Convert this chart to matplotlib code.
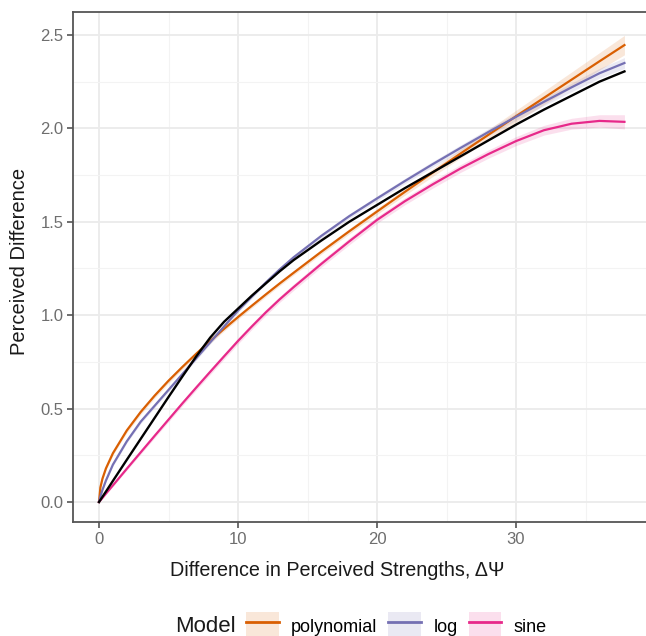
import matplotlib.pyplot as plt
from matplotlib.lines import Line2D
from matplotlib.patches import Patch
from matplotlib.ticker import MultipleLocator

plt.rcParams['font.family'] = ['Liberation Sans', 'DejaVu Sans']

# values
x = [0, 0.1, 0.25, 0.5, 1, 2, 3, 4, 5, 6, 7, 8, 9, 10, 11, 12, 13, 14, 16,
     18, 20, 22, 24, 26, 28, 30, 32, 34, 36, 37.8]
observed = [0, 0.011, 0.028, 0.056, 0.113, 0.226, 0.338, 0.45, 0.562, 0.672,
            0.78, 0.88, 0.965, 1.035, 1.105, 1.17, 1.235, 1.295, 1.40, 1.50,
            1.59, 1.68, 1.765, 1.85, 1.935, 2.02, 2.10, 2.175, 2.25, 2.305]
poly = [0, 0.078, 0.125, 0.18, 0.261, 0.383, 0.482, 0.569, 0.649, 0.723,
        0.794, 0.862, 0.927, 0.99, 1.051, 1.111, 1.17, 1.227, 1.34, 1.449,
        1.555, 1.66, 1.763, 1.865, 1.965, 2.065, 2.163, 2.261, 2.359, 2.446]
poly_se = [0, 0.004, 0.006, 0.008, 0.01, 0.012, 0.013, 0.013, 0.013, 0.013,
           0.013, 0.012, 0.012, 0.012, 0.012, 0.012, 0.012, 0.012, 0.013,
           0.014, 0.016, 0.018, 0.021, 0.024, 0.028, 0.032, 0.036, 0.041,
           0.046, 0.052]
log = [0, 0.03, 0.065, 0.115, 0.2, 0.325, 0.43, 0.515, 0.60, 0.685, 0.77,
       0.855, 0.94, 1.025, 1.10, 1.175, 1.245, 1.31, 1.425, 1.53, 1.625,
       1.718, 1.808, 1.895, 1.98, 2.062, 2.142, 2.22, 2.295, 2.35]
log_se = [0, 0.003, 0.004, 0.006, 0.008, 0.009, 0.01, 0.01, 0.01, 0.01, 0.01,
          0.01, 0.01, 0.01, 0.01, 0.01, 0.01, 0.011, 0.011, 0.012, 0.013,
          0.014, 0.015, 0.016, 0.018, 0.019, 0.021, 0.023, 0.026, 0.029]
sine = [0, 0.009, 0.022, 0.045, 0.089, 0.178, 0.266, 0.354, 0.441, 0.528,
        0.613, 0.697, 0.78, 0.862, 0.94, 1.015, 1.085, 1.15, 1.275, 1.395,
        1.51, 1.61, 1.70, 1.785, 1.862, 1.932, 1.99, 2.025, 2.04, 2.035]
sine_se = [0, 0.002, 0.003, 0.004, 0.006, 0.008, 0.01, 0.011, 0.012, 0.013,
           0.014, 0.015, 0.015, 0.016, 0.016, 0.016, 0.016, 0.017, 0.017,
           0.018, 0.018, 0.019, 0.02, 0.021, 0.022, 0.024, 0.026, 0.029,
           0.033, 0.038]

models = ['polynomial', 'log', 'sine']
fits = [poly, log, sine]
ses = [poly_se, log_se, sine_se]
colors = ['#D95F02', '#7570B3', '#E7298A']

fig = plt.figure(figsize=(6.46, 6.36), dpi=100)
ax = fig.add_axes([73/646, 114/636, 573/646, 510/636])

for fit, se, col in zip(fits, ses, colors):
    lo = [f - s for f, s in zip(fit, se)]
    hi = [f + s for f, s in zip(fit, se)]
    ax.fill_between(x, lo, hi, color=col, alpha=0.15, linewidth=0, zorder=2)
for fit, col in zip(fits, colors):
    ax.plot(x, fit, color=col, linewidth=1.6, zorder=3)
ax.plot(x, observed, color='black', linewidth=1.7, zorder=4)

ax.set_xlim(-1.87, 39.35)
ax.set_ylim(-0.107, 2.623)
ax.xaxis.set_major_locator(MultipleLocator(10))
ax.xaxis.set_minor_locator(MultipleLocator(5))
ax.yaxis.set_major_locator(MultipleLocator(0.5))
ax.yaxis.set_minor_locator(MultipleLocator(0.25))
ax.yaxis.set_major_formatter(plt.FormatStrFormatter('%.1f'))
ax.grid(which='major', color='#EBEBEB', linewidth=1.3, zorder=0)
ax.grid(which='minor', color='#F3F3F3', linewidth=0.8, zorder=0)
ax.set_axisbelow(True)
for side in ['left', 'bottom', 'top']:
    ax.spines[side].set_color('#555555')
    ax.spines[side].set_linewidth(1.3)
ax.spines['right'].set_visible(False)
ax.tick_params(which='major', length=4, width=1.2, color='#555555',
               labelcolor='#6E6E6E', labelsize=12, pad=3)
ax.tick_params(which='minor', length=0)

fig.text(337/646, 1 - 571/636, 'Difference in Perceived Strengths, \u0394\u03a8',
         fontsize=14.2, color='#1A1A1A', ha='center', va='center')
fig.text(20/646, 1 - 261/636, 'Perceived Difference', fontsize=14.5,
         color='#1A1A1A', ha='center', va='center', rotation=90)

handles = [(Patch(facecolor=c, alpha=0.15, edgecolor='none'),
            Line2D([], [], color=c, linewidth=2)) for c in colors]
fig.text(175/646, 1 - 626/636, 'Model', fontsize=16, color='#1A1A1A',
         va='center', ha='left')
fig.legend(handles, models, loc='center left', bbox_to_anchor=(246/646, 1 - 626/636),
           ncol=3, frameon=False, fontsize=13, handlelength=1.8, handleheight=2.0,
           handletextpad=0.7, columnspacing=0.6, borderpad=0, borderaxespad=0)

fig.savefig('out.png', dpi=100)
